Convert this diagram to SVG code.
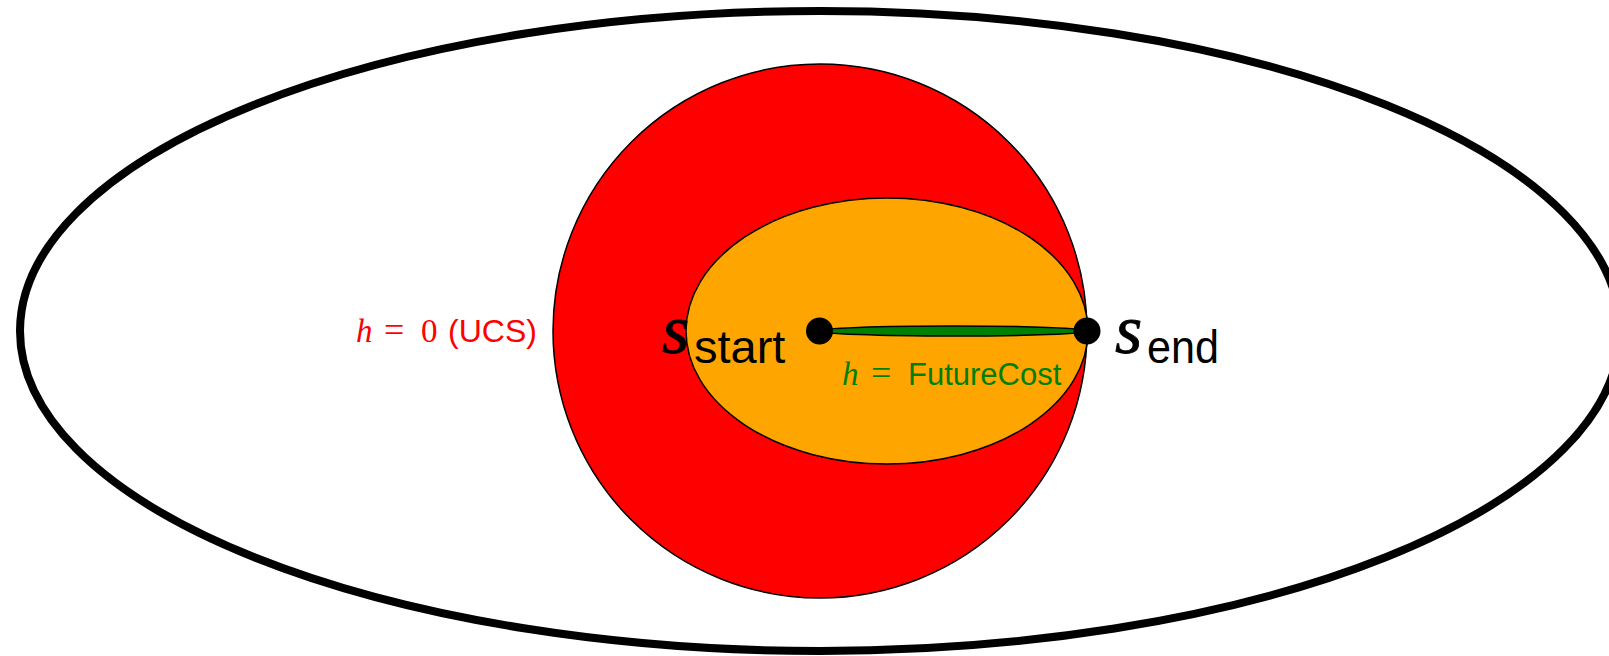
<svg xmlns="http://www.w3.org/2000/svg" width="1609" height="656" viewBox="0 0 1609 656">
<style>
.mi{font-family:"Liberation Serif",serif;font-style:italic}
.rm{font-family:"Liberation Serif",serif}
.sf{font-family:"Liberation Sans",sans-serif}
</style>
<rect width="1609" height="656" fill="#fff"/>
<g id="outer"><ellipse cx="820" cy="331" rx="800" ry="320" fill="none" stroke="#000" stroke-width="8"/></g>
<g id="ucs"><circle cx="820" cy="331" r="267" fill="#FF0000" stroke="#000" stroke-width="1.5"/></g>
<g id="astar"><ellipse cx="887" cy="331" rx="201" ry="133" fill="#FFA500" stroke="#000" stroke-width="1.5"/></g>
<g id="connectors"><ellipse cx="953" cy="331" rx="134" ry="5" fill="#008000" stroke="#000" stroke-width="1.5"/></g>
<g id="start"><circle cx="819.5" cy="331" r="13.5" fill="#000"/>
<text fill="#000"><tspan class="mi" x="662" y="353" font-size="70" stroke="#000" stroke-width="0.8">s</tspan><tspan class="sf" x="694" y="363" font-size="47">start</tspan></text></g>
<g id="end"><circle cx="1087" cy="331" r="13.5" fill="#000"/>
<text fill="#000"><tspan class="mi" x="1115" y="353" font-size="70" stroke="#000" stroke-width="0.8">s</tspan><tspan class="sf" x="1147" y="363" font-size="47" textLength="72" lengthAdjust="spacingAndGlyphs">end</tspan></text></g>
<g id="label-ucs"><text y="342" fill="#FF0000"><tspan class="mi" x="356" font-size="33">h</tspan><tspan class="rm" x="384" font-size="36">=</tspan><tspan class="rm" x="421" font-size="33">0</tspan><tspan class="sf" x="448" font-size="32">(UCS)</tspan></text></g>
<g id="label-fc"><text y="385" fill="#008000"><tspan class="mi" x="842" font-size="33">h</tspan><tspan class="rm" x="871" font-size="36">=</tspan><tspan class="sf" x="908" font-size="31">FutureCost</tspan></text></g>
</svg>
